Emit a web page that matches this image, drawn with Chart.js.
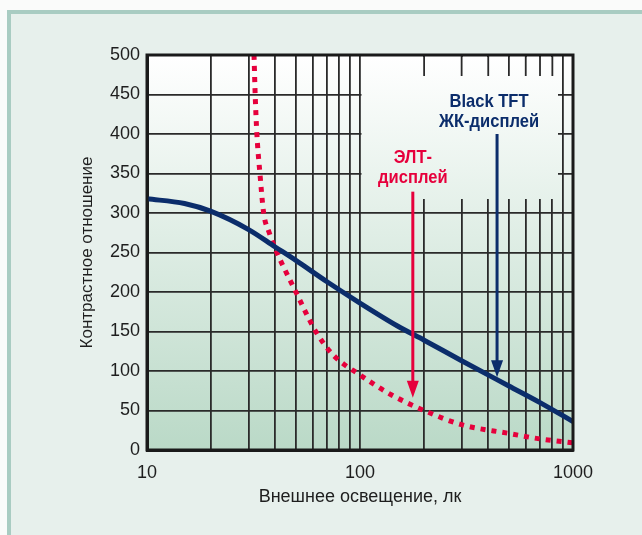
<!DOCTYPE html>
<html>
<head>
<meta charset="utf-8">
<script src="https://cdn.jsdelivr.net/npm/chart.js@4"></script>
<style>
  html, body { margin: 0; padding: 0; background: #fafbfa; }
  #panel { position: absolute; left: 7px; top: 10px; width: 650px; height: 540px;
           background: #e7f0ec; border-left: 4px solid #a9ccc2; border-top: 4px solid #a9ccc2; }
  #chart { position: absolute; left: 0; top: 0; }
</style>
</head>
<body>
<div id="panel"></div>
<canvas id="chart" width="642" height="535"></canvas>
<script>
const $ = (q) => document.querySelector(q);

// TFT (Black TFT LCD) curve
const tftLux      = [10, 15, 20, 30, 40, 50, 70, 100, 150, 200, 300, 500, 700, 1000];
const tftContrast = [318, 312, 302, 279, 257, 240, 213, 186, 157, 139, 113, 81, 60, 36];

// CRT curve
const crtLux      = [31.8, 32.2, 32.8, 33.9, 35.3, 37.5, 40.7, 45, 50, 62, 75, 100, 140, 200, 300, 500, 700, 1000];
const crtContrast = [500, 450, 400, 350, 300, 275, 250, 225, 200, 150, 120, 95, 70, 50, 32, 21, 14, 9];

// axis ticks
const gridLux = [10, 20, 30, 40, 50, 60, 70, 80, 90, 100, 200, 300, 400, 500, 600, 700, 800, 900, 1000];
const xTickLabels = [10, 100, 1000];

// arrows: [lux, from, to]
const crtArrow = [177, 327, 66];
const tftArrow = [440, 400, 92];

const BLUE = "#0b2d6b";
const RED = "#e6003c";
const FONT = "'Liberation Sans', Arial, sans-serif";

function bgGradient(ctx, area) {
  const g = ctx.createLinearGradient(0, area.top, 0, area.bottom);
  g.addColorStop(0, "#ffffff");
  g.addColorStop(1, "#bad9c7");
  return g;
}

function drawArrow(ctx, x, y0, y1, color) {
  ctx.save();
  ctx.strokeStyle = color;
  ctx.fillStyle = color;
  ctx.lineWidth = 3;
  ctx.beginPath();
  ctx.moveTo(x, y0);
  ctx.lineTo(x, y1 - 12);
  ctx.stroke();
  ctx.beginPath();
  ctx.moveTo(x - 6, y1 - 17);
  ctx.lineTo(x + 6, y1 - 17);
  ctx.lineTo(x, y1);
  ctx.closePath();
  ctx.fill();
  ctx.restore();
}

function label(ctx, text, cx, baseY, color) {
  ctx.save();
  ctx.fillStyle = color;
  ctx.font = "bold 19px " + FONT;
  ctx.textAlign = "center";
  ctx.textBaseline = "alphabetic";
  ctx.translate(cx, baseY);
  ctx.scale(0.87, 1);
  ctx.fillText(text, 0, 0);
  ctx.restore();
}

const decorPlugin = {
  id: "decor",
  beforeDraw(chart) {
    const { ctx, chartArea: a } = chart;
    ctx.save();
    ctx.fillStyle = bgGradient(ctx, a);
    ctx.fillRect(a.left, a.top, a.right - a.left, a.bottom - a.top);
    ctx.restore();
  },
  beforeDatasetsDraw(chart) {
    // blank grid behind the labels, keep short edge ticks
    const { ctx, chartArea: a, scales } = chart;
    const x100 = scales.x.getPixelForValue(100);
    const y300 = scales.y.getPixelForValue(300);
    ctx.save();
    ctx.fillStyle = bgGradient(ctx, a);
    ctx.fillRect(x100 + 1.5, a.top + 2, a.right - 15 - (x100 + 1.5), y300 - 14 - (a.top + 2));
    ctx.restore();
    // short stubs hanging from the top edge
    ctx.save();
    ctx.strokeStyle = "#2a2a2a";
    ctx.lineWidth = 1.8;
    gridLux.filter(v => v > 100 && v < 1000).forEach(v => {
      const px = scales.x.getPixelForValue(v);
      if (px < a.right - 15) {
        ctx.beginPath();
        ctx.moveTo(px, a.top);
        ctx.lineTo(px, a.top + 21);
        ctx.stroke();
      }
    });
    ctx.restore();
  },
  afterDatasetsDraw(chart) {
    const { ctx, chartArea: a, scales } = chart;
    ctx.save();
    ctx.strokeStyle = "#1a1a1a";
    ctx.lineWidth = 3;
    ctx.strokeRect(a.left, a.top, a.right - a.left, a.bottom - a.top);
    ctx.restore();

    const cx = scales.x.getPixelForValue(crtArrow[0]);
    const cy0 = scales.y.getPixelForValue(crtArrow[1]);
    drawArrow(ctx, cx, cy0, scales.y.getPixelForValue(crtArrow[2]), RED);
    label(ctx, "ЭЛТ-", cx, cy0 - 29, RED);
    label(ctx, "дисплей", cx, cy0 - 9, RED);

    const tx = scales.x.getPixelForValue(tftArrow[0]);
    const ty0 = scales.y.getPixelForValue(tftArrow[1]);
    drawArrow(ctx, tx, ty0, scales.y.getPixelForValue(tftArrow[2]), BLUE);
    label(ctx, "Black TFT", tx - 8, ty0 - 27, BLUE);
    label(ctx, "ЖК-дисплей", tx - 8, ty0 - 7, BLUE);
  }
};

new Chart($("#chart"), {
  type: "line",
  data: {
    datasets: [
      {
        label: "Black TFT ЖК-дисплей",
        data: tftLux.map((x, i) => ({ x, y: tftContrast[i] })),
        borderColor: BLUE,
        borderWidth: 5,
        pointRadius: 0,
        cubicInterpolationMode: "monotone"
      },
      {
        label: "ЭЛТ-дисплей",
        data: crtLux.map((x, i) => ({ x, y: crtContrast[i] })),
        borderColor: RED,
        borderWidth: 5,
        borderDash: [5, 6],
        borderCapStyle: "butt",
        pointRadius: 0,
        cubicInterpolationMode: "monotone"
      }
    ]
  },
  options: {
    responsive: false,
    animation: false,
    layout: { padding: { left: 0, top: 55, right: 69, bottom: 0 } },
    plugins: { legend: { display: false }, tooltip: { enabled: false } },
    scales: {
      x: {
        type: "logarithmic",
        min: 10,
        max: 1000,
        afterBuildTicks: (s) => { s.ticks = gridLux.map(v => ({ value: v })); },
        afterFit: (s) => { s.height = 85; },
        grid: { color: "#2a2a2a", lineWidth: 1.8, drawTicks: false },
        border: { color: "#1a1a1a", width: 3 },
        ticks: {
          autoSkip: false,
          maxRotation: 0,
          padding: 12,
          color: "#1e1e1e",
          font: { size: 18, family: FONT },
          callback: (v) => xTickLabels.includes(v) ? String(v) : ""
        },
        title: {
          display: true,
          text: "Внешнее освещение, лк",
          color: "#1e1e1e",
          font: { size: 18, family: FONT },
          padding: { top: 0, bottom: 27 }
        }
      },
      y: {
        min: 0,
        max: 500,
        afterFit: (s) => { s.width = 147; },
        grid: { color: "#2a2a2a", lineWidth: 1.8, drawTicks: false },
        border: { color: "#1a1a1a", width: 3 },
        ticks: {
          stepSize: 50,
          padding: 7,
          color: "#1e1e1e",
          font: { size: 18, family: FONT }
        },
        title: {
          display: true,
          text: "Контрастное отношение",
          color: "#1e1e1e",
          font: { size: 17, family: FONT },
          padding: { top: 77, bottom: 0 }
        }
      }
    }
  },
  plugins: [decorPlugin]
});
</script>
</body>
</html>
